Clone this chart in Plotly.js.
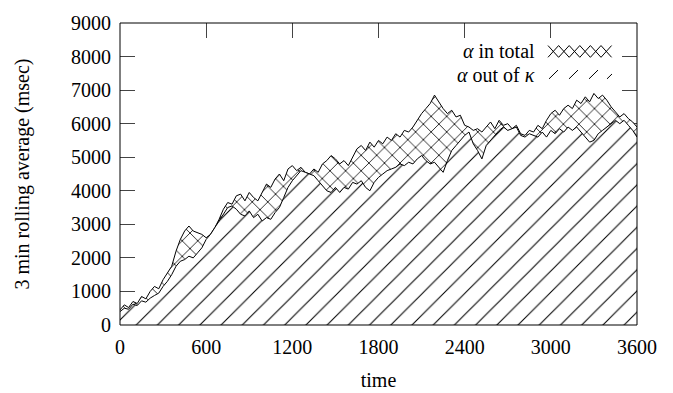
<!DOCTYPE html>
<html>
<head>
<meta charset="utf-8">
<script src="https://cdn.plot.ly/plotly-3.0.1.min.js"></script>
<style>html,body{margin:0;padding:0;background:#fff;}#chart{width:673px;height:393px;}</style>
</head>
<body>
<div id="chart"></div>
<script>
// time in seconds (sampled every 30 s)
var times = [];
for (var s = 0; s <= 3600; s += 30) times.push(s);

// "alpha in total" 3-min rolling average (msec)
var alphaTotal = [
  450, 600, 520, 700, 640, 850, 780, 1000, 1150, 1080,
  1350, 1550, 1750, 2200, 2550, 2800, 2950, 2800, 2750, 2700,
  2600, 2700, 2900, 3150, 3450, 3650, 3600, 3850, 3900, 3700,
  3950, 3800, 3700, 3950, 4200, 4100, 4350, 4500, 4300, 4650,
  4750, 4600, 4700, 4550, 4500, 4650, 4550, 4800, 4900, 5050,
  4950, 4800, 4900, 4750, 5000, 5250, 5350, 5200, 5450, 5300,
  5500, 5400, 5600, 5500, 5700, 5600, 5800, 5750, 5900, 6100,
  6300, 6450, 6600, 6850, 6650, 6450, 6300, 6400, 6200, 6250,
  5950, 5900, 5800, 5850, 5750, 5900, 6050, 5850, 6100, 5950,
  6000, 5850, 5950, 5700, 5650, 5800, 5750, 5950, 5850, 6100,
  6300, 6400, 6250, 6450, 6550, 6450, 6700, 6600, 6800, 6650,
  6900, 6750, 6850, 6700, 6500, 6350, 6200, 6300, 6150, 6050,
  5900
];

// "alpha out of kappa" 3-min rolling average (msec)
var alphaOutKappa = [
  400, 500, 470, 620, 580, 720, 680, 800, 880, 950,
  1150, 1300, 1500, 1750, 1900, 1950, 2050, 2000, 2150, 2300,
  2550, 2700, 2900, 3100, 3300, 3500, 3550, 3450, 3300, 3250,
  3400, 3200, 3300, 3100, 3200, 3150, 3350, 3500, 3800, 4100,
  4300, 4450, 4600, 4550, 4500, 4450, 4300, 4150, 4000, 3950,
  4100, 3950, 4100, 4050, 4250, 4200, 4300, 4100, 4000, 4250,
  4400, 4500, 4600, 4650, 4700, 4800, 4750, 4850, 4800, 4950,
  5050, 4900, 4800, 4850, 4700, 4550, 4900, 5200, 5350, 5500,
  5650, 5750, 5400, 5200, 4950, 5350, 5500, 5650, 5800, 5900,
  5800, 5850, 5900, 5650, 5600, 5700, 5650, 5600, 5750, 5600,
  5800, 5700, 5850, 5750, 5900, 5800, 5900, 5750, 5600, 5450,
  5500, 5700, 5800, 5900, 6000, 6100, 6000, 6100, 5950, 5800,
  5600
];

var xTicks = [0, 600, 1200, 1800, 2400, 3000, 3600];
var yTicks = [0, 1000, 2000, 3000, 4000, 5000, 6000, 7000, 8000, 9000];
var legendLabels = ['<i>α</i> in total', '<i>α</i> out of <i>κ</i>'];

// plot-area geometry (pixels) used only for legend decoration placement
var W = 673, H = 393, ML = 120, MR = 36, MT = 17, MB = 68;
var PW = W - ML - MR, PH = H - MT - MB;
function px(x) { return ((x - ML) / PW).toFixed(5); }
function py(y) { return ((H - MB - y) / PH).toFixed(5); }

var font = 'Liberation Serif, Times New Roman, serif';

var traces = [
  {
    x: times, y: alphaTotal, type: 'scatter', mode: 'lines', name: legendLabels[0],
    line: {color: '#000', width: 1},
    fill: 'tozeroy', fillcolor: '#fff',
    fillpattern: {shape: 'x', size: 11, solidity: 0.14, fgcolor: '#000', bgcolor: '#fff', fillmode: 'replace'},
    showlegend: false, hoverinfo: 'skip'
  },
  {
    x: times, y: alphaOutKappa, type: 'scatter', mode: 'lines', name: legendLabels[1],
    line: {color: '#000', width: 1},
    fill: 'tozeroy', fillcolor: '#fff',
    fillpattern: {shape: '/', size: 15, solidity: 0.07, fgcolor: '#000', bgcolor: '#fff', fillmode: 'replace'},
    showlegend: false, hoverinfo: 'skip'
  }
];

// legend swatches (decoration)
var shapes = [];
var sx0 = 548, sy0 = 40, sy1 = 52, d = 10.6;
var p1 = '';
for (var k = 0; k < 6; k++) {
  var a = sx0 + k * d;
  p1 += 'M' + px(a) + ',' + py(sy1) + 'L' + px(a + d) + ',' + py(sy0);
  p1 += 'M' + px(a) + ',' + py(sy0) + 'L' + px(a + d) + ',' + py(sy1);
}
shapes.push({type: 'path', xref: 'paper', yref: 'paper', path: p1, line: {color: '#000', width: 1}, layer: 'above'});
var p2 = '';
var slashX = [549, 569, 589, 607];
for (var j = 0; j < slashX.length; j++) {
  var len = (j === slashX.length - 1) ? 5 : 9;
  p2 += 'M' + px(slashX[j]) + ',' + py(74) + 'L' + px(slashX[j] + len) + ',' + py(74 - len);
}
shapes.push({type: 'path', xref: 'paper', yref: 'paper', path: p2, line: {color: '#000', width: 1}, layer: 'above'});
shapes.push({type: 'rect', xref: 'paper', yref: 'paper', x0: 0, x1: 1, y0: 0, y1: 1, line: {color: '#000', width: 1}, layer: 'above'});

var annotations = [
  {xref: 'paper', yref: 'paper', x: Number(px(537)), y: Number(py(46)), xanchor: 'right', yanchor: 'middle',
   text: legendLabels[0], showarrow: false, font: {family: font, size: 20, color: '#000'}},
  {xref: 'paper', yref: 'paper', x: Number(px(537)), y: Number(py(70)), xanchor: 'right', yanchor: 'middle',
   text: legendLabels[1], showarrow: false, font: {family: font, size: 20, color: '#000'}}
];

var layout = {
  width: W, height: H,
  margin: {l: ML, r: MR, t: MT, b: MB, pad: 0},
  paper_bgcolor: '#fff', plot_bgcolor: '#fff',
  font: {family: font, size: 20, color: '#000'},
  showlegend: false,
  xaxis: {
    range: [0, 3600], tickvals: xTicks, ticktext: xTicks.map(String),
    ticks: 'inside', ticklen: 15, tickcolor: '#444', tickwidth: 1, mirror: 'ticks',
    showline: false, showgrid: false, zeroline: false, layer: 'below traces',
    ticklabelstandoff: 8, automargin: 'left',
    title: {text: 'time', font: {family: font, size: 20, color: '#000'}, standoff: 15}
  },
  yaxis: {
    range: [0, 9000], tickvals: yTicks, ticktext: yTicks.map(String),
    ticks: 'inside', ticklen: 15, tickcolor: '#444', tickwidth: 1, mirror: 'ticks',
    showline: false, showgrid: false, zeroline: false, layer: 'below traces',
    ticklabelstandoff: 8, automargin: true,
    title: {text: '3 min rolling average (msec)', font: {family: font, size: 20, color: '#000'}, standoff: 36}
  },
  shapes: shapes,
  annotations: annotations
};

Plotly.newPlot('chart', traces, layout, {displayModeBar: false, staticPlot: true});
</script>
</body>
</html>
